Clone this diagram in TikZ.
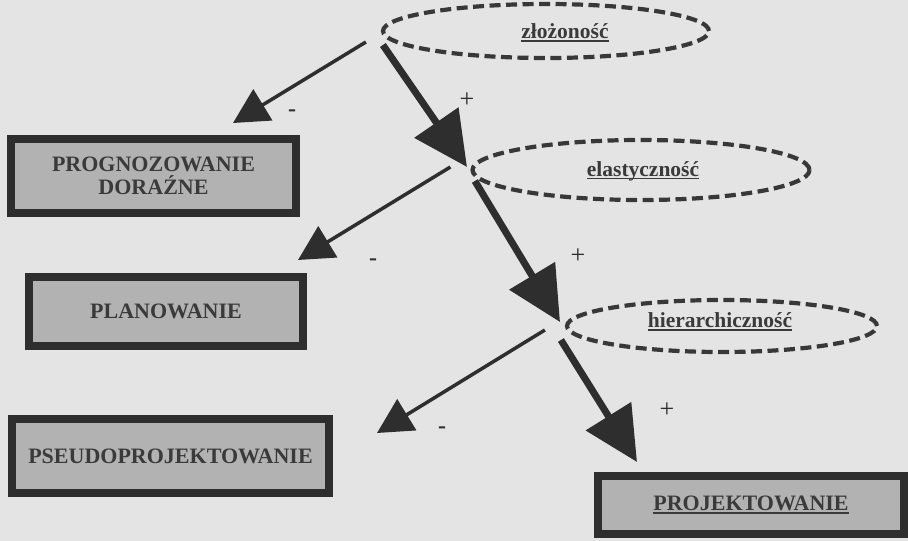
\documentclass[tikz,border=0pt]{standalone}
\usepackage{fontspec}
\setmainfont{Liberation Serif}
\usetikzlibrary{shapes.geometric,arrows.meta,calc}
\definecolor{paper}{HTML}{E4E4E4}
\definecolor{ink}{HTML}{2E2E2E}
\definecolor{dashink}{HTML}{383838}
\definecolor{boxfill}{HTML}{B2B2B2}
\definecolor{txt}{HTML}{3A3A3A}
\newcommand\myul[1]{\setbox0\hbox{#1}\rlap{\color{txt}\rule[-3pt]{\wd0}{1.6pt}}\box0}
\begin{document}
\begin{tikzpicture}[x=1pt,y=-1pt,
  ellnode/.style={ellipse, draw=dashink, line width=4.2pt, dash pattern=on 11pt off 5.5pt, inner sep=0pt},
  elltext/.style={font=\fontsize{21.5}{23}\selectfont\bfseries, text=txt, inner sep=0pt},
  boxnode/.style={rectangle, draw=ink, line width=8pt, fill=boxfill, inner sep=0pt, align=center,
    font=\fontsize{22}{23}\selectfont\bfseries, text=txt},
  thinarrow/.style={draw=ink, line width=3.5pt, -{Triangle[length=35pt,width=36pt]}},
  thickarrow/.style={draw=ink, line width=7pt, -{Triangle[length=54pt,width=52pt]}},
  signlabel/.style={font=\fontsize{26}{26}\selectfont, text=ink, inner sep=0pt},
  minuslabel/.style={font=\fontsize{24}{24}\selectfont\bfseries, text=ink, inner sep=0pt}
]
\useasboundingbox (0,0) rectangle (908,541);
\fill[paper] (0,0) rectangle (908,541);

% ellipses
\node[ellnode, minimum width=326pt, minimum height=54pt] (e1) at (546,31) {};
\node[elltext] (l1) at (565,33) {\myul{złożoność}};
\node[ellnode, minimum width=337pt, minimum height=60pt] (e2) at (641,170) {};
\node[elltext] (l2) at (643,171) {\myul{elastyczność}};
\node[ellnode, minimum width=310pt, minimum height=52pt] (e3) at (722,326) {};
\node[elltext] (l3) at (720,322) {\myul{hierarchiczność}};

% boxes
\node[boxnode, minimum width=285pt, minimum height=74pt] (b1) at (153.5,176) {PROGNOZOWANIE\\DORAŹNE};
\node[boxnode, minimum width=274pt, minimum height=69pt] (b2) at (166,311.5) {PLANOWANIE};
\node[boxnode, minimum width=317pt, minimum height=74pt] (b3) at (170.5,456) {PSEUDOPROJEKTOWANIE};
\node[boxnode, minimum width=306pt, minimum height=58pt] (b4) at (751,505) {\myul{PROJEKTOWANIE}};

% arrow start and tip points
\coordinate (s1a) at ($(e1.west)+(-15,11)$);
\coordinate (s1b) at ($(e1.west)+(2,14)$);
\coordinate (s2a) at ($(e2.west)+(-20,-3)$);
\coordinate (s2b) at ($(e2.west)+(4.5,11)$);
\coordinate (s3a) at ($(e3.west)+(-20,4)$);
\coordinate (s3b) at ($(e3.west)+(-4,14)$);
\coordinate (t1) at (233,123);
\coordinate (t2) at (467,167);
\coordinate (t3) at (298,260);
\coordinate (t4) at (560,322);
\coordinate (t5) at (377,433);
\coordinate (t6) at (637,462);

\draw[thinarrow] (s1a) -- (t1);
\draw[thickarrow] (s1b) -- (t2);
\draw[thinarrow] (s2a) -- (t3);
\draw[thickarrow] (s2b) -- (t4);
\draw[thinarrow] (s3a) -- (t5);
\draw[thickarrow] (s3b) -- (t6);

% signs
\node[minuslabel] (m1) at (292,113) {-};
\node[signlabel] (p1) at (467,100) {+};
\node[minuslabel] (m2) at (373,262) {-};
\node[signlabel] (p2) at (578,256) {+};
\node[minuslabel] (m3) at (442,430) {-};
\node[signlabel] (p3) at (667,410) {+};
\end{tikzpicture}
\end{document}
